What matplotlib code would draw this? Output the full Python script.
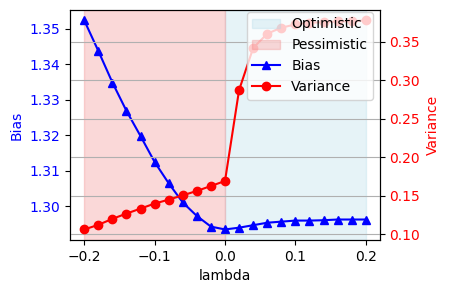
import numpy as np
import matplotlib
matplotlib.use('Agg')
import matplotlib.pyplot as plt

# Data -----------------------------------------------------------------------

lam = [-0.20, -0.18, -0.16, -0.14, -0.12, -0.10, -0.08, -0.06, -0.04, -0.02,
       0.00, 0.02, 0.04, 0.06, 0.08, 0.10, 0.12, 0.14, 0.16, 0.18, 0.20]

bias = [1.3523, 1.3437, 1.3348, 1.3268, 1.3197, 1.3124, 1.3064, 1.3010,
        1.2972, 1.2942, 1.2934, 1.2939, 1.2946, 1.2953, 1.2956, 1.2959,
        1.2959, 1.2960, 1.2962, 1.2962, 1.2962]

variance = [0.1061, 0.1121, 0.1199, 0.1267, 0.1332, 0.1397, 0.1448, 0.1504,
            0.1561, 0.1625, 0.1690, 0.2870, 0.3416, 0.3602, 0.3680, 0.3722,
            0.3744, 0.3752, 0.3761, 0.3765, 0.3774]

# Plot ------------------------------------------------------------------------

fig, ax1 = plt.subplots(figsize=(4.5, 2.94), dpi=100)
fig.subplots_adjust(left=0.156, right=0.844, top=0.966, bottom=0.184)

opt = ax1.axvspan(0, 0.2, color='lightblue', alpha=0.3, label='Optimistic')
pes = ax1.axvspan(-0.2, 0, color='lightcoral', alpha=0.3, label='Pessimistic')

l1, = ax1.plot(lam, bias, color='blue', marker='^', label='Bias')
ax1.set_xlabel('lambda')
ax1.set_ylabel('Bias', color='blue')
ax1.tick_params(axis='y', labelcolor='blue')

ax2 = ax1.twinx()
l2, = ax2.plot(lam, variance, color='red', marker='o', label='Variance')
ax2.set_ylabel('Variance', color='red')
ax2.tick_params(axis='y', labelcolor='red')
ax2.grid(True)

ax2.legend(handles=[opt, pes, l1, l2], loc='upper right',
           bbox_to_anchor=(1, 1.022))

plt.savefig('out.png')
